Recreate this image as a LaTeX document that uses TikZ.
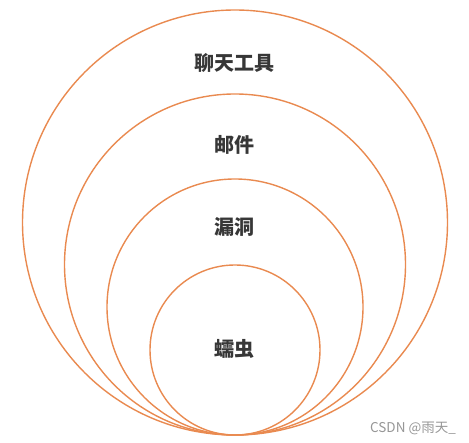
\documentclass[tikz,border=0pt]{standalone}
\usepackage{fontspec}
\newfontfamily\cjk{Noto Sans CJK SC}
\definecolor{ring}{RGB}{233,138,80}
\definecolor{txt}{RGB}{55,55,55}
\definecolor{wm}{RGB}{150,150,150}
\begin{document}
\begin{tikzpicture}[x=1pt,y=-1pt,
  ringline/.style={draw=ring,line width=1.4pt},
  lbl/.style={font=\cjk\fontsize{20}{22}\selectfont\bfseries,text=txt,inner sep=0pt}]
\useasboundingbox (0,0) rectangle (469,443);
\node[ringline,circle,minimum size=425pt,inner sep=0pt] (c1) at (235,222.5) {};
\node[ringline,circle,minimum size=341pt,inner sep=0pt] (c2) at (235,264.5) {};
\node[ringline,circle,minimum size=256pt,inner sep=0pt] (c3) at (235,307) {};
\node[ringline,circle,minimum size=170pt,inner sep=0pt] (c4) at (235,350) {};
\node[lbl] (t1) at (234,63) {聊天工具};
\node[lbl] (t2) at (234,145) {邮件};
\node[lbl] (t3) at (234,227) {漏洞};
\node[lbl] (t4) at (234,349) {蠕虫};
\node[font=\cjk\fontsize{13.5}{15}\selectfont,text=wm,inner sep=0pt] (wm) at (413,428) {CSDN @雨天\_};
\end{tikzpicture}
\end{document}
